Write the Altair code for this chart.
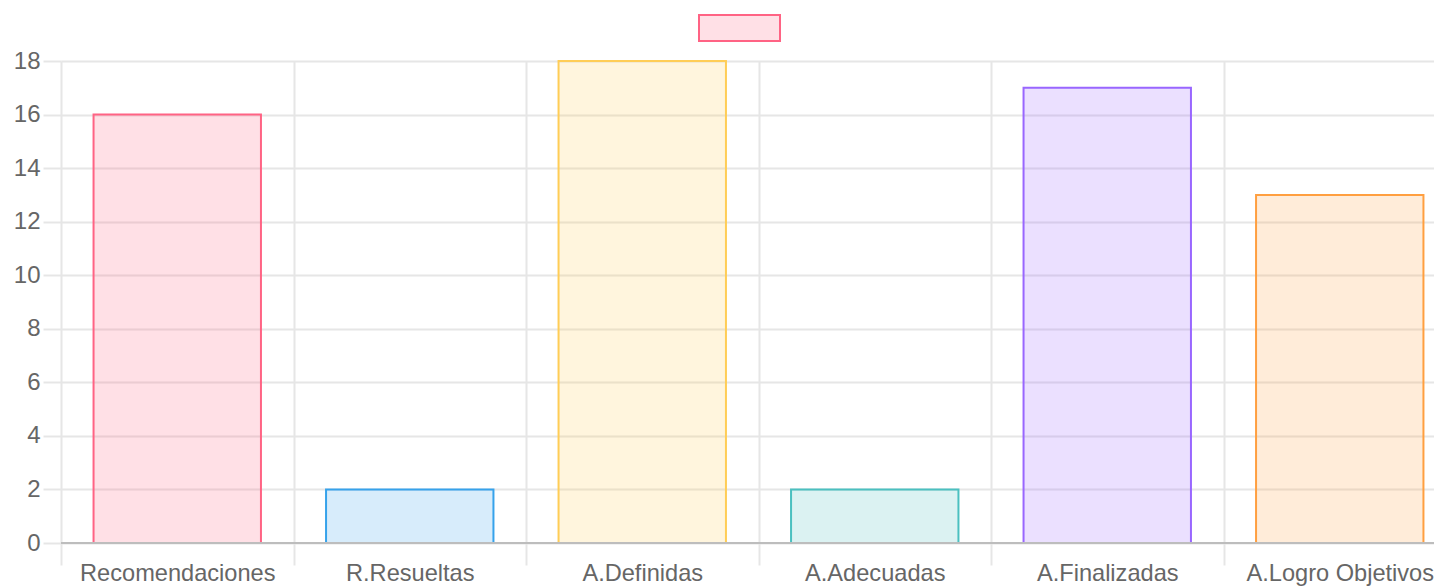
import altair as alt
import pandas as pd

categories = ["Recomendaciones", "R.Resueltas", "A.Definidas", "A.Adecuadas", "A.Finalizadas", "A.Logro Objetivos"]
values = [16, 2, 18, 2, 17, 13]
border_colors = ["rgb(255,99,132)", "rgb(54,162,235)", "rgb(255,205,86)",
                 "rgb(75,192,192)", "rgb(153,102,255)", "rgb(255,159,64)"]
y_ticks = [0, 2, 4, 6, 8, 10, 12, 14, 16, 18]

df = pd.DataFrame({"cat": categories, "value": values})

GRID = "#e6e6e6"
FONT = "Liberation Sans"

x_enc = alt.X(
    "cat:N", sort=categories,
    scale=alt.Scale(domain=categories, range=[0, 1395], paddingInner=0, paddingOuter=0),
    axis=alt.Axis(title=None, labelAngle=0, tickBand="extent", tickSize=22, labelPadding=15,
                  labelBaseline="alphabetic", labelLimit=0, labelOverlap=False,
                  domain=False, grid=True, gridColor=GRID, gridWidth=2,
                  tickColor=GRID, tickWidth=2, labelFontSize=23.6, labelColor="#666", labelFont=FONT),
)
y_enc = alt.Y(
    "value:Q",
    scale=alt.Scale(domain=[0, 18], nice=False),
    axis=alt.Axis(title=None, values=y_ticks, tickSize=18, labelPadding=3, domain=False,
                  gridColor=GRID, gridWidth=2, tickColor=GRID, tickWidth=2,
                  labelFontSize=24, labelColor="#666", labelFont=FONT),
)

bars = alt.Chart(df).mark_bar(width=alt.RelativeBandSize(0.72), fillOpacity=0.2, strokeWidth=2).encode(
    x=x_enc,
    y=y_enc,
    fill=alt.Fill("cat:N", scale=alt.Scale(domain=categories, range=border_colors), legend=None),
    stroke=alt.Stroke("cat:N", scale=alt.Scale(domain=categories, range=border_colors), legend=None),
)

zero_line = alt.Chart(alt.Data(values=[{}])).mark_rule(color="#bdbdbd", strokeWidth=2).encode(
    y=alt.datum(0)
)

legend_box = alt.Chart(alt.Data(values=[{}])).mark_rect(
    fill="rgba(255,99,132,0.2)", stroke="rgb(255,99,132)", strokeWidth=2
).encode(
    x=alt.value(638), x2=alt.value(719), y=alt.value(-46), y2=alt.value(-20)
)

chart = alt.layer(bars, zero_line, legend_box).properties(
    width=1373, height=482,
    padding={"left": 53, "top": 53, "right": 0, "bottom": 45},
    autosize=alt.AutoSizeParams(type="none"),
).configure_view(stroke=None)

chart.save("out.html", embed_options={"renderer": "svg", "actions": False})
